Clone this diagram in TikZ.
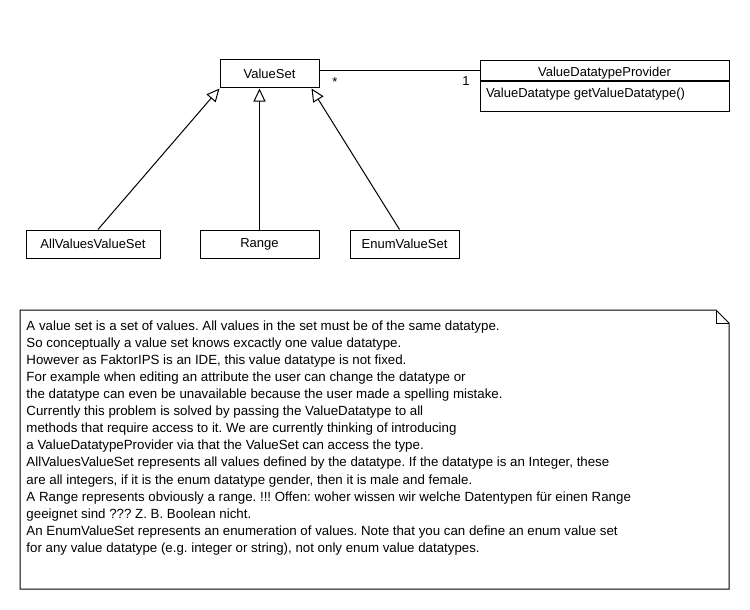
\documentclass[tikz,border=0pt]{standalone}
\usepackage{fontspec}
\setmainfont{Liberation Sans}
\usetikzlibrary{arrows.meta,calc}
\frenchspacing
\begin{document}
\begin{tikzpicture}[x=1pt,y=-1pt,line width=1pt,
  every node/.style={font=\fontsize{13}{17}\selectfont},
  cls/.style={draw,minimum height=28pt,inner sep=0pt},
  gen/.style={-{Triangle[open,length=13pt,width=12pt,fill=white]}}]
\useasboundingbox[fill=white] (0,0) rectangle (750,610);

% classes
\node[cls,minimum width=99pt] (vs) at (269.5,74) {ValueSet};
\node[cls,minimum width=134pt] (allv) at (93,244) {AllValuesValueSet};
\node[cls,minimum width=119pt] (range) at (259.5,244) {Range};
\node[cls,minimum width=109pt] (enum) at (404.5,244) {EnumValueSet};

% provider class with one operation
\node[draw,minimum width=249pt,minimum height=20pt,inner sep=0pt] (prov) at (604.5,71) {};
\node[inner sep=0pt] (provname) at ($(prov.center)+(0,2)$) {ValueDatatypeProvider};
\node[draw,minimum width=249pt,minimum height=29pt,inner sep=0pt,anchor=north] (provops) at (prov.south) {};
\node[anchor=west,inner sep=0pt] (op) at ($(provops.west)+(6,-2)$) {ValueDatatype getValueDatatype()};

% association
\draw (prov.west) -- (prov.west -| vs.east);
\node[inner sep=0pt] (m1) at (335,82) {*};
\node[inner sep=0pt] (m2) at (466,81) {1};

% generalizations
\draw[gen] ($(allv.north)+(5,0)$) -- (vs.south west);
\draw[gen] (range.north) -- (range.north |- vs.south);
\draw[gen] ($(enum.north)+(-5,0)$) -- ($(vs.south east)+(-8,0)$);

% note
\draw (20,310) -- (716,310) -- (729,323) -- (729,589) -- (20,589) -- cycle;
\draw (716,310) -- (716,323) -- (729,323);
\node[anchor=north west,inner sep=0pt,align=left,font=\fontsize{13.3}{17.1}\selectfont] (txt) at (26,320) {%
A value set is a set of values. All values in the set must be of the same datatype.\\
So conceptually a value set knows excactly one value datatype.\\
However as FaktorIPS is an IDE, this value datatype is not fixed.\\
For example when editing an attribute the user can change the datatype or\\
the datatype can even be unavailable because the user made a spelling mistake.\\
Currently this problem is solved by passing the ValueDatatype to all\\
methods that require access to it. We are currently thinking of introducing\\
a ValueDatatypeProvider via that the ValueSet can access the type.\\
AllValuesValueSet represents all values defined by the datatype. If the datatype is an Integer, these\\
are all integers, if it is the enum datatype gender, then it is male and female.\\
A Range represents obviously a range. !!! Offen: woher wissen wir welche Datentypen für einen Range\\
geeignet sind ??? Z. B. Boolean nicht.\\
An EnumValueSet represents an enumeration of values. Note that you can define an enum value set\\
for any value datatype (e.g. integer or string), not only enum value datatypes.};
\end{tikzpicture}
\end{document}
